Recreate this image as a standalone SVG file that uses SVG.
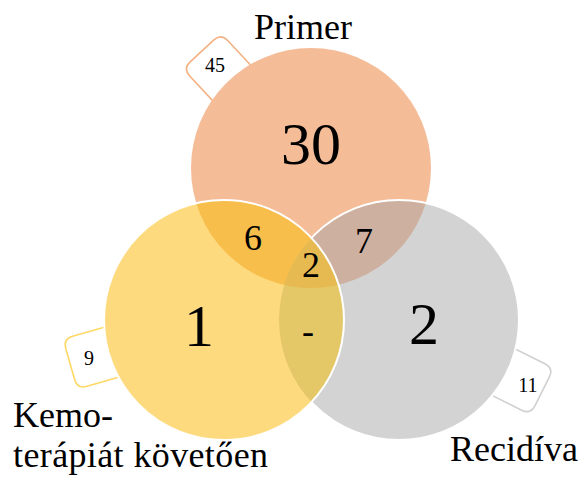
<svg xmlns="http://www.w3.org/2000/svg" width="582" height="479" viewBox="0 0 582 479">
<style>
.lbl{font-family:"Liberation Serif","Times New Roman",serif;fill:#000;text-anchor:middle}
.big{font-size:60px}
.mid{font-size:36px}
.sm{font-size:20px}
.cat{font-family:"Liberation Serif","Times New Roman",serif;fill:#000;font-size:36px}
.edge{fill:none;stroke:#fff;stroke-width:2}
.co{fill:#fff;stroke-width:1.6}
</style>
<defs>
<circle id="cO" cx="311" cy="168" r="120"/>
<circle id="cY" cx="224" cy="320" r="120"/>
<circle id="cG" cx="399" cy="320" r="120"/>
<clipPath id="clipO"><use href="#cO"/></clipPath>
<clipPath id="clipG"><use href="#cG"/></clipPath>
<path id="callout" d="M100,-26 H150 Q160,-26 160,-16 V16 Q160,26 150,26 H100"/>
</defs>
<g id="connectors">
<use href="#callout" class="co" stroke="#F4B183" transform="translate(311,168) rotate(-133)"/>
<use href="#callout" class="co" stroke="#FFD966" transform="translate(224,320) rotate(164)"/>
<use href="#callout" class="co" stroke="#D0D0D0" transform="translate(399,320) rotate(26.5)"/>
</g>
<g id="primer">
<use href="#cO" fill="#F5BC98"/>
</g>
<g id="recidiva">
<use href="#cG" fill="#D3D3D3"/>
<g clip-path="url(#clipO)"><use href="#cG" fill="#CEB0A0"/></g>
<use href="#cG" class="edge"/>
</g>
<g id="kemo">
<use href="#cY" fill="#FEDA7E"/>
<g clip-path="url(#clipO)"><use href="#cY" fill="#F8BE4B"/></g>
<g clip-path="url(#clipG)"><use href="#cY" fill="#E4C868"/></g>
<g clip-path="url(#clipO)"><g clip-path="url(#clipG)"><use href="#cY" fill="#E6BA50"/></g></g>
<use href="#cY" class="edge"/>
</g>
<g id="labels">
<text class="lbl big" x="311" y="164">30</text>
<text class="lbl big" x="199" y="346">1</text>
<text class="lbl big" x="424" y="344">2</text>
<text class="lbl mid" x="253" y="250">6</text>
<text class="lbl mid" x="364" y="253">7</text>
<text class="lbl mid" x="311" y="277">2</text>
<text class="lbl mid" x="308" y="343">-</text>
<text class="lbl sm" x="215" y="72">45</text>
<text class="lbl sm" x="89" y="365">9</text>
<text class="lbl sm" x="528" y="392">11</text>
<text class="cat" x="303" y="39" text-anchor="middle">Primer</text>
<text class="cat" x="13" y="427">Kemo-</text>
<text class="cat" x="13" y="467" textLength="255">terápiát követően</text>
<text class="cat" x="450" y="461">Recidíva</text>
</g>
</svg>
